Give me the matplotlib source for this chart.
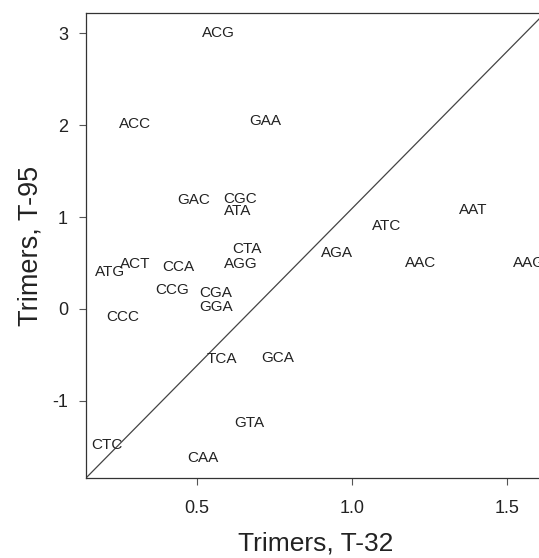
import matplotlib
matplotlib.use('Agg')
import matplotlib.pyplot as plt

# Datos: trímeros y sus valores en T-32 (x) y T-95 (y)
trimeros = ['ACG', 'ACC', 'GAA', 'GAC', 'CGC', 'ATA', 'CTA', 'AGG', 'ACT', 'ATG',
            'CCA', 'CCG', 'CGA', 'GGA', 'CCC', 'TCA', 'GCA', 'GTA', 'CTC', 'CAA',
            'AAT', 'ATC', 'AGA', 'AAC', 'AAG']
t32 = [0.57, 0.30, 0.72, 0.49, 0.64, 0.63, 0.66, 0.64, 0.30, 0.22,
       0.44, 0.42, 0.56, 0.56, 0.26, 0.58, 0.76, 0.67, 0.21, 0.52,
       1.39, 1.11, 0.95, 1.22, 1.57]
t95 = [3.00, 2.01, 2.04, 1.18, 1.20, 1.07, 0.65, 0.49, 0.49, 0.40,
       0.46, 0.21, 0.17, 0.02, -0.09, -0.55, -0.53, -1.24, -1.48, -1.62,
       1.08, 0.90, 0.61, 0.50, 0.50]

x_ticks = [0.5, 1.0, 1.5]
x_tick_labels = ['0.5', '1.0', '1.5']
y_ticks = [-1, 0, 1, 2, 3]
x_lim = (0.142, 1.622)
y_lim = (-1.84, 3.22)

plt.rcParams['font.family'] = ['Liberation Sans', 'DejaVu Sans']
plt.rcParams['axes.unicode_minus'] = False

fig = plt.figure(figsize=(5.39, 5.58), dpi=100)
# El panel se sale un poco por la derecha, como en la original
ax = fig.add_axes([86 / 539, 80 / 558, 459 / 539, 465 / 558])

for nombre, x, y in zip(trimeros, t32, t95):
    ax.text(x, y, nombre, ha='center', va='center', fontsize=11, color='#222222')

# Diagonal de esquina a esquina
ax.plot([0, 1], [0, 1], transform=ax.transAxes, color='#444444', lw=0.9)

ax.set_xlim(*x_lim)
ax.set_ylim(*y_lim)
ax.set_xticks(x_ticks)
ax.set_xticklabels(x_tick_labels)
ax.set_yticks(y_ticks)
ax.tick_params(direction='out', length=5, width=0.8, colors='#555555',
               labelsize=13, labelcolor='#222222')
ax.tick_params(axis='x', pad=11)
ax.tick_params(axis='y', pad=8)
for s in ax.spines.values():
    s.set_color('#333333')
    s.set_linewidth(0.9)

ax.set_xlabel('Trimers, T-32', fontsize=19, color='#222222', labelpad=10)
ax.set_ylabel('Trimers, T-95', fontsize=19.5, color='#222222', labelpad=6)

fig.savefig('out.png', dpi=100)
